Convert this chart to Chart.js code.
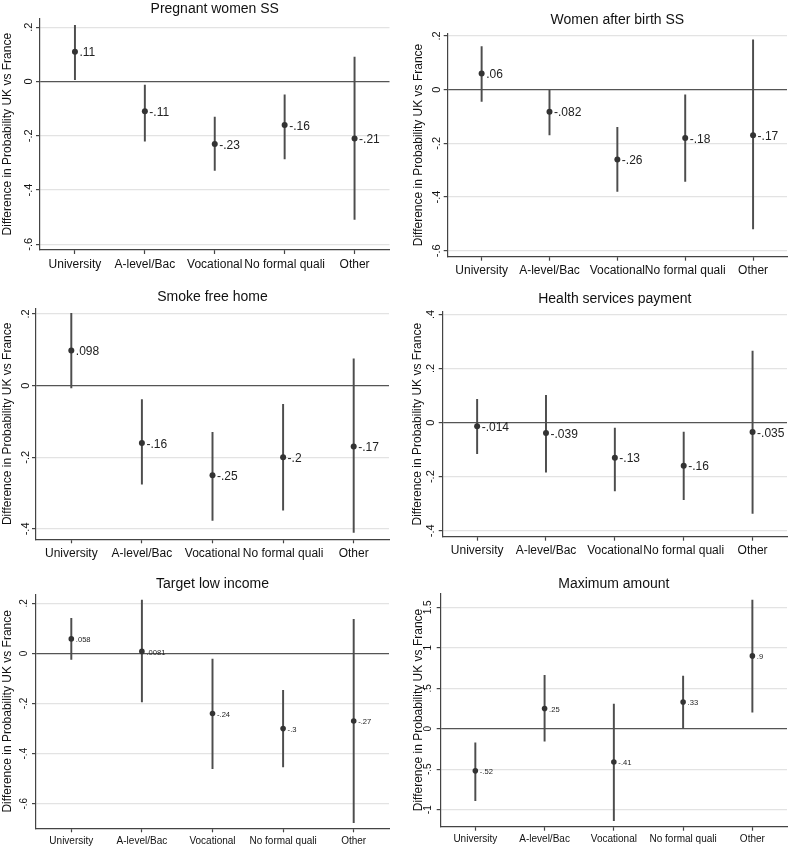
<!DOCTYPE html>
<html><head><meta charset="utf-8">
<script src="https://cdn.jsdelivr.net/npm/chart.js@4.4.0/dist/chart.umd.min.js"></script>
<style>
html,body{margin:0;padding:0;background:#fff;}
#wrap{position:relative;width:791px;height:848px;overflow:hidden;background:#fff;}
canvas{position:absolute;}
</style></head><body>
<div id="wrap">
<canvas id="c1" width="395" height="280" style="left:0px;top:0px"></canvas>
<canvas id="c2" width="396" height="280" style="left:395px;top:0px"></canvas>
<canvas id="c3" width="395" height="280" style="left:0px;top:280px"></canvas>
<canvas id="c4" width="396" height="280" style="left:395px;top:280px"></canvas>
<canvas id="c5" width="395" height="288" style="left:0px;top:560px"></canvas>
<canvas id="c6" width="396" height="288" style="left:395px;top:560px"></canvas>
</div>
<script>
// ---------- DATA ----------
const categories = ['University', 'A-level/Bac', 'Vocational', 'No formal quali', 'Other'];
const yAxisTitle = 'Difference in Probability UK vs France';

const pregnantEst = [0.11, -0.11, -0.23, -0.16, -0.21];
const pregnantLo  = [0.007, -0.22, -0.328, -0.285, -0.508];
const pregnantHi  = [0.207, -0.013, -0.131, -0.049, 0.09];

const afterBirthEst = [0.06, -0.082, -0.26, -0.18, -0.17];
const afterBirthLo  = [-0.044, -0.168, -0.379, -0.342, -0.519];
const afterBirthHi  = [0.161, 0.0, -0.14, -0.019, 0.186];

const smokeEst = [0.098, -0.16, -0.25, -0.2, -0.17];
const smokeLo  = [-0.006, -0.275, -0.376, -0.348, -0.41];
const smokeHi  = [0.202, -0.039, -0.13, -0.052, 0.075];

const healthEst = [-0.014, -0.039, -0.13, -0.16, -0.035];
const healthLo  = [-0.115, -0.183, -0.253, -0.285, -0.336];
const healthHi  = [0.086, 0.101, -0.02, -0.035, 0.264];

const targetEst = [0.058, 0.0081, -0.24, -0.3, -0.27];
const targetLo  = [-0.024, -0.194, -0.46, -0.453, -0.676];
const targetHi  = [0.14, 0.213, -0.023, -0.147, 0.136];

const maxAmtEst = [-0.52, 0.25, -0.41, 0.33, 0.9];
const maxAmtLo  = [-0.889, -0.152, -1.136, 0.005, 0.206];
const maxAmtHi  = [-0.173, 0.659, 0.305, 0.651, 1.59];

const yTicksA = [-0.6, -0.4, -0.2, 0, 0.2];
const yLabelsA = ['-.6', '-.4', '-.2', '0', '.2'];
const yTicksB = [-0.4, -0.2, 0, 0.2];
const yLabelsB = ['-.4', '-.2', '0', '.2'];
const yTicksC = [-0.4, -0.2, 0, 0.2, 0.4];
const yLabelsC = ['-.4', '-.2', '0', '.2', '.4'];
const yTicksD = [-1, -0.5, 0, 0.5, 1, 1.5];
const yLabelsD = ['-1', '-.5', '0', '.5', '1', '1.5'];

// ---------- LAYOUT / STYLE ----------
const FONT = '"Liberation Sans", Arial, Helvetica, sans-serif';
Chart.defaults.font.family = FONT;

const panels = [
  {id:'c1', title:'Pregnant women SS', est:pregnantEst, lo:pregnantLo, hi:pregnantHi, yTicks:yTicksA, yLabels:yLabelsA,
   min:-0.621, max:0.233, L:40, R:389.5, T:18.3, B:250, titleY:8.7, ytPad:0, gap:7.2, yTickSize:11, xTickSize:12, lblSize:12, r:3},
  {id:'c2', title:'Women after birth SS', est:afterBirthEst, lo:afterBirthLo, hi:afterBirthHi, yTicks:yTicksA, yLabels:yLabelsA,
   min:-0.622, max:0.21, L:52.7, R:392.7, T:33.3, B:256.7, titleY:20.3, ytPad:16, gap:7, yTickSize:11, xTickSize:12, lblSize:12, r:3},
  {id:'c3', title:'Smoke free home', est:smokeEst, lo:smokeLo, hi:smokeHi, yTicks:yTicksB, yLabels:yLabelsB,
   min:-0.429, max:0.216, L:36, R:389, T:28.3, B:259.3, titleY:17, ytPad:0, gap:6.5, yTickSize:11, xTickSize:12, lblSize:12, r:3},
  {id:'c4', title:'Health services payment', est:healthEst, lo:healthLo, hi:healthHi, yTicks:yTicksC, yLabels:yLabelsC,
   min:-0.422, max:0.41, L:47.7, R:392.7, T:31.7, B:256.7, titleY:18.7, ytPad:15.5, gap:7.4, yTickSize:11, xTickSize:12, lblSize:12, r:3},
  {id:'c5', title:'Target low income', est:targetEst, lo:targetLo, hi:targetHi, yTicks:yTicksA, yLabels:yLabelsA,
   min:-0.698, max:0.236, L:36, R:389, T:34.3, B:268.3, titleY:24.5, ytPad:0, gap:7.5, yTickSize:10, xTickSize:10, lblSize:7.6, r:2.8},
  {id:'c6', title:'Maximum amount', est:maxAmtEst, lo:maxAmtLo, hi:maxAmtHi, yTicks:yTicksD, yLabels:yLabelsD,
   min:-1.21, max:1.673, L:45.7, R:392.7, T:33.3, B:266.7, titleY:24.5, ytPad:16, gap:8.5, yTickSize:10, xTickSize:10, lblSize:7.6, r:2.8}
];

function fmt(v) { return String(v).replace(/^(-?)0\./, '$1.'); }

const measureCtx = document.createElement('canvas').getContext('2d');
function widest(labels, size) {
  measureCtx.font = `normal ${size}px ${FONT}`;
  return Math.max(...labels.map(l => measureCtx.measureText(l).width));
}

const pointLabelPlugin = {
  id: 'pointLabels',
  afterDatasetsDraw(chart, args, opts) {
    const meta = chart.getDatasetMeta(1);
    const ds = chart.data.datasets[1];
    const ctx = chart.ctx;
    ctx.save();
    ctx.font = `normal ${opts.size}px ${FONT}`;
    ctx.fillStyle = '#222';
    ctx.textBaseline = 'middle';
    ctx.textAlign = 'left';
    meta.data.forEach((pt, i) => {
      ctx.fillText(fmt(ds.data[i]), pt.x + opts.dx, pt.y + opts.dy);
    });
    ctx.restore();
  }
};

function makeChart(p) {
  const cv = document.getElementById(p.id);
  const W = cv.width, H = cv.height;
  const titleLH = 14 * 1.2;
  const w = widest(p.yLabels, p.yTickSize);
  new Chart(cv, {
    type: 'bar',
    data: {
      labels: categories,
      datasets: [
        {type: 'bar', data: p.lo.map((l, i) => [l, p.hi[i]]), backgroundColor: '#4d4d4d',
         barThickness: 1.3, borderWidth: 0, order: 1},
        {type: 'line', data: p.est, showLine: false, pointRadius: p.r, pointBackgroundColor: '#333',
         pointBorderColor: '#333', pointBorderWidth: 0, order: 0}
      ]
    },
    options: {
      responsive: false, animation: false, devicePixelRatio: 1,
      layout: {padding: {left: 0, right: W - p.R, top: 0, bottom: 0}},
      plugins: {
        legend: {display: false}, tooltip: {enabled: false},
        title: {display: true, text: p.title, fullSize: false, color: '#111',
          font: {size: 14, family: FONT, weight: 'normal', lineHeight: 1.2},
          padding: {top: p.titleY - titleLH / 2, bottom: p.T - p.titleY - titleLH / 2}},
        pointLabels: {size: p.lblSize, dx: 4.5, dy: 1.3}
      },
      scales: {
        x: {
          type: 'category', offset: true,
          grid: {display: true, drawOnChartArea: false, offset: false, tickLength: 4, tickColor: '#444', tickWidth: 1.2},
          border: {display: true, color: '#444', width: 1.2},
          ticks: {autoSkip: false, maxRotation: 0, minRotation: 0, padding: 3, color: '#111',
            font: {size: p.xTickSize, family: FONT}},
          afterFit: s => { s.height = H - p.B; }
        },
        y: {
          min: p.min, max: p.max,
          grid: {color: c => (c.tick && c.tick.value === 0) ? '#555' : '#e3e3e3', lineWidth: 1.2,
            tickLength: 4, tickColor: '#444', tickWidth: 1.2},
          border: {display: true, color: '#444', width: 1.2},
          afterBuildTicks: s => { s.ticks = p.yTicks.map(v => ({value: v})); },
          ticks: {minRotation: 90, maxRotation: 90, crossAlign: 'center', padding: p.gap - w / 2,
            color: '#111', font: {size: p.yTickSize, family: FONT},
            callback: (v, i) => p.yLabels[i]},
          title: {display: true, text: yAxisTitle, color: '#111',
            font: {size: 12, family: FONT, lineHeight: 1.2}, padding: {top: p.ytPad, bottom: 0}},
          afterFit: s => { s.width = p.L; }
        }
      }
    },
    plugins: [pointLabelPlugin]
  });
}

panels.forEach(makeChart);
</script>
</body></html>
